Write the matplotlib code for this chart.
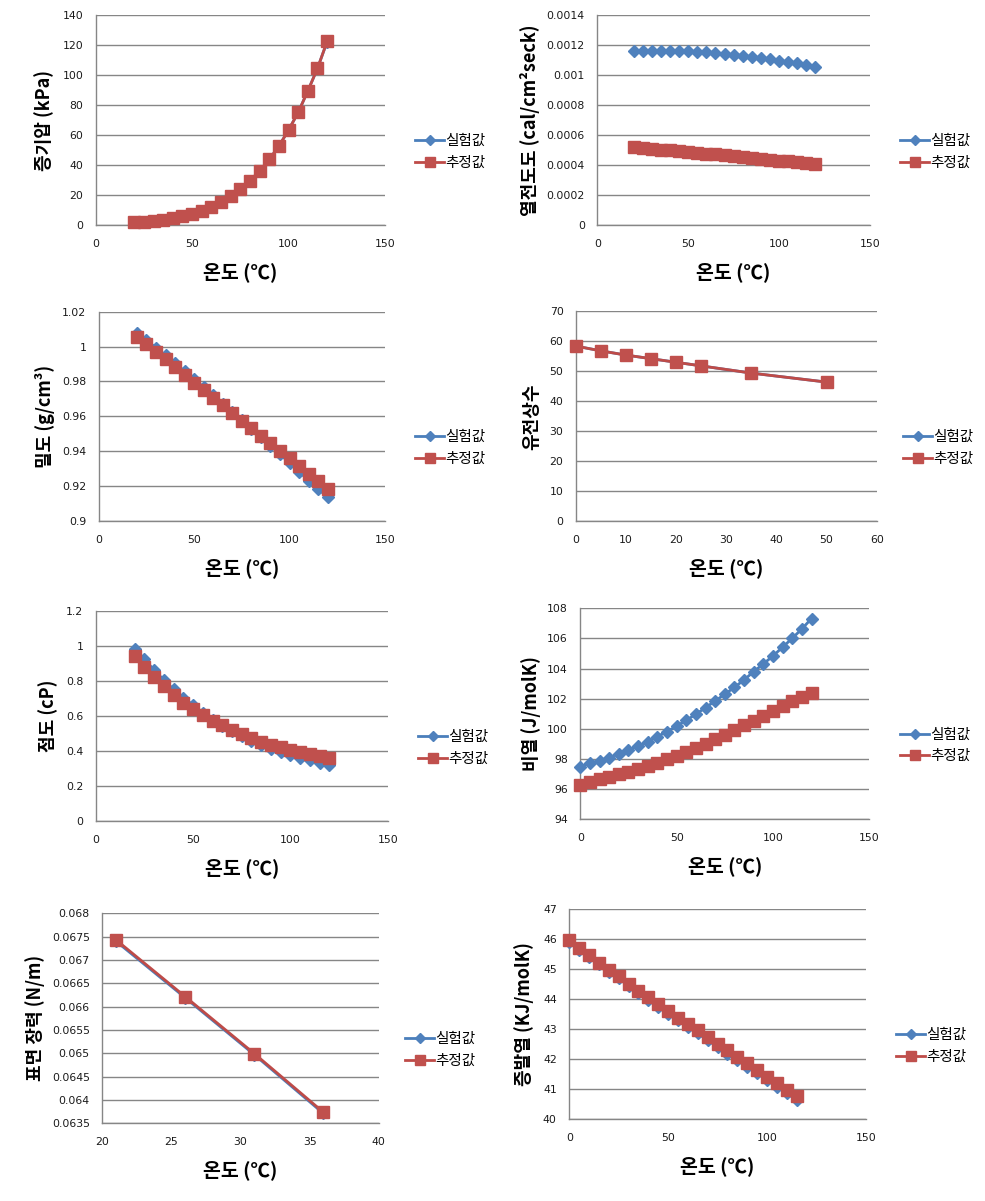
import matplotlib
matplotlib.use("Agg")
import matplotlib.pyplot as plt

plt.rcParams['font.family'] = ['Noto Sans CJK KR', 'DejaVu Sans']

FIG_W, FIG_H = 985, 1201
BLUE_LINE, BLUE_MARK = '#4A7EBB', '#4F81BD'
RED_LINE, RED_MARK = '#BE4B48', '#C0504D'
GRID = '#868686'

LABEL_EXP = '실험값'
LABEL_EST = '추정값'
XLABEL = '온도 (℃)'

# ---------------- data ----------------
# 1. vapour pressure
t_vp = [20, 25, 30, 35, 40, 45, 50, 55, 60, 65, 70, 75, 80, 85, 90, 95, 100, 105, 110, 115, 120]
vp_exp = [1.7, 2.2, 2.8, 3.5, 4.5, 5.7, 7.4, 9.4, 11.9, 15.2, 19.3, 24.1, 29.6, 36.0, 43.8, 52.7, 63.4, 75.2, 89.5, 104.6, 122.4]
vp_est = [1.7, 2.2, 2.8, 3.5, 4.5, 5.7, 7.4, 9.4, 11.9, 15.2, 19.3, 24.1, 29.6, 36.0, 43.8, 52.7, 63.4, 75.2, 89.5, 104.6, 122.6]

# 2. thermal conductivity
t_tc = [20, 25, 30, 35, 40, 45, 50, 55, 60, 65, 70, 75, 80, 85, 90, 95, 100, 105, 110, 115, 120]
tc_exp = [0.0011641, 0.0011641, 0.0011641, 0.0011641, 0.0011641, 0.0011619, 0.0011596, 0.0011552, 0.001153,
          0.0011485, 0.0011418, 0.0011374, 0.0011307, 0.0011218, 0.0011151, 0.0011062, 0.0010973, 0.0010884,
          0.0010795, 0.0010684, 0.0010572]
tc_est = [0.000521, 0.000515, 0.000510, 0.000504, 0.000499, 0.000493, 0.000488, 0.000482, 0.000476, 0.000471,
          0.000465, 0.000459, 0.000453, 0.000447, 0.000441, 0.000436, 0.000430, 0.000424, 0.000418, 0.000412, 0.000407]

# 3. density
t_den = [20, 25, 30, 35, 40, 45, 50, 55, 60, 65, 70, 75, 80, 85, 90, 95, 100, 105, 110, 115, 120]
den_exp = [1.0080, 1.0037, 0.9993, 0.9949, 0.9904, 0.9859, 0.9813, 0.9767, 0.9720, 0.9673, 0.9626, 0.9578,
           0.9530, 0.9481, 0.9432, 0.9383, 0.9333, 0.9283, 0.9232, 0.9184, 0.9136]
den_est = [1.0057, 1.0017, 0.9971, 0.9927, 0.9885, 0.9837, 0.9793, 0.9749, 0.9705, 0.9663, 0.9617, 0.9573,
           0.9531, 0.9487, 0.9445, 0.9401, 0.9359, 0.9315, 0.9271, 0.9227, 0.9183]

# 4. dielectric constant
t_die = [0, 5, 10, 15, 20, 25, 35, 50]
die_exp = [58.4, 56.8, 55.4, 54.2, 53.0, 51.8, 49.4, 46.4]
die_est = [58.4, 56.8, 55.4, 54.2, 53.0, 51.8, 49.4, 46.4]

# 5. viscosity
t_vis = [20, 25, 30, 35, 40, 45, 50, 55, 60, 65, 70, 75, 80, 85, 90, 95, 100, 105, 110, 115, 120]
vis_exp = [0.979, 0.922, 0.861, 0.804, 0.750, 0.703, 0.661, 0.617, 0.575, 0.541, 0.510, 0.484, 0.457, 0.432,
           0.411, 0.392, 0.375, 0.360, 0.345, 0.331, 0.320]
vis_est = [0.941, 0.876, 0.819, 0.768, 0.718, 0.674, 0.638, 0.604, 0.571, 0.545, 0.518, 0.493, 0.470, 0.451,
           0.434, 0.419, 0.404, 0.390, 0.379, 0.368, 0.356]

# 6. specific heat
t_cp = [0, 5, 10, 15, 20, 25, 30, 35, 40, 45, 50, 55, 60, 65, 70, 75, 80, 85, 90, 95, 100, 105, 110, 115, 120]
cp_exp = [97.50, 97.72, 97.89, 98.09, 98.36, 98.58, 98.87, 99.15, 99.49, 99.82, 100.19, 100.57, 100.97, 101.41,
          101.85, 102.30, 102.76, 103.25, 103.80, 104.31, 104.84, 105.42, 106.01, 106.63, 107.32]
cp_est = [96.30, 96.50, 96.68, 96.83, 96.99, 97.16, 97.34, 97.56, 97.76, 98.00, 98.23, 98.47, 98.73, 99.00,
          99.31, 99.60, 99.93, 100.24, 100.55, 100.86, 101.19, 101.52, 101.85, 102.14, 102.38]

# 7. surface tension
t_st = [21, 26, 31, 36]
st_exp = [0.06740, 0.06619, 0.06497, 0.06371]
st_est = [0.067429, 0.066214, 0.064993, 0.063736]

# 8. heat of vaporization
t_hv = [0, 5, 10, 15, 20, 25, 30, 35, 40, 45, 50, 55, 60, 65, 70, 75, 80, 85, 90, 95, 100, 105, 110, 115]
hv_exp = [45.91, 45.65, 45.41, 45.16, 44.92, 44.70, 44.45, 44.21, 43.98, 43.74, 43.52, 43.30, 43.07, 42.86,
          42.64, 42.41, 42.19, 41.97, 41.75, 41.53, 41.31, 41.08, 40.86, 40.65]
hv_est = [45.96, 45.70, 45.47, 45.22, 44.99, 44.77, 44.52, 44.29, 44.06, 43.83, 43.61, 43.39, 43.17, 42.96,
          42.74, 42.52, 42.30, 42.08, 41.87, 41.64, 41.42, 41.20, 40.98, 40.77]

# ticks
xt_150 = [0, 50, 100, 150]
yt_vp = [0, 20, 40, 60, 80, 100, 120, 140]
yt_tc = [0, 0.0002, 0.0004, 0.0006, 0.0008, 0.001, 0.0012, 0.0014]
yl_tc = ['0', '0.0002', '0.0004', '0.0006', '0.0008', '0.001', '0.0012', '0.0014']
yt_den = [0.9, 0.92, 0.94, 0.96, 0.98, 1.0, 1.02]
yl_den = ['0.9', '0.92', '0.94', '0.96', '0.98', '1', '1.02']
xt_die = [0, 10, 20, 30, 40, 50, 60]
yt_die = [0, 10, 20, 30, 40, 50, 60, 70]
yt_vis = [0, 0.2, 0.4, 0.6, 0.8, 1.0, 1.2]
yl_vis = ['0', '0.2', '0.4', '0.6', '0.8', '1', '1.2']
yt_cp = [94, 96, 98, 100, 102, 104, 106, 108]
xt_st = [20, 25, 30, 35, 40]
yt_st = [0.0635, 0.064, 0.0645, 0.065, 0.0655, 0.066, 0.0665, 0.067, 0.0675, 0.068]
yl_st = ['0.0635', '0.064', '0.0645', '0.065', '0.0655', '0.066', '0.0665', '0.067', '0.0675', '0.068']
yt_hv = [40, 41, 42, 43, 44, 45, 46, 47]

# ---------------- figure ----------------
fig = plt.figure(figsize=(FIG_W / 100, FIG_H / 100), dpi=100)


def px_axes(l, r, t, b):
    return fig.add_axes([l / FIG_W, 1 - b / FIG_H, (r - l) / FIG_W, (b - t) / FIG_H])


panels = [
    ((95.7, 385, 15.3, 225), t_vp, vp_exp, vp_est, xt_150, (0, 150), yt_vp, None, (0, 140),
     '증기압 (kPa)', -0.179, 415, 152),
    ((597.3, 870, 15.3, 225), t_tc, tc_exp, tc_est, xt_150, (0, 150), yt_tc, yl_tc, (0, 0.0014),
     '열전도도 (cal/cm²seck)', -0.247, 900, 152),
    ((98.7, 385, 311.7, 521), t_den, den_exp, den_est, xt_150, (0, 150), yt_den, yl_den, (0.9, 1.02),
     '밀도 (g/cm³)', -0.188, 415, 448),
    ((576, 876.7, 311.3, 521.3), t_die, die_exp, die_est, xt_die, (0, 60), yt_die, None, (0, 70),
     '유전상수', -0.146, 903, 448),
    ((95.7, 387.7, 610.7, 820.7), t_vis, vis_exp, vis_est, xt_150, (0, 150), yt_vis, yl_vis, (0, 1.2),
     '점도 (cP)', -0.163, 418, 748),
    ((580.3, 869.3, 608.3, 819.3), t_cp, cp_exp, cp_est, xt_150, (0, 150), yt_cp, None, (94, 108),
     '비열 (J/molK)', -0.171, 900, 745.5),
    ((102.3, 378.7, 913.3, 1123.3), t_st, st_exp, st_est, xt_st, (20, 40), yt_st, yl_st, (0.0635, 0.068),
     '표면 장력 (N/m)', -0.243, 405, 1050),
    ((569.3, 865.7, 909.3, 1119.3), t_hv, hv_exp, hv_est, xt_150, (0, 150), yt_hv, None, (40, 47),
     '증발열 (KJ/molK)', -0.153, 896, 1046),
]

for (rect, x, y_exp, y_est, xt, xlim, yt, yl, ylim, ylab, ylab_x, lx, ly) in panels:
    l, r, t, b = rect
    ax = px_axes(l, r, t, b)
    ax.plot(x, y_exp, color=BLUE_LINE, lw=2.0, marker='D', ms=6.5, mfc=BLUE_MARK, mec=BLUE_MARK,
            label=LABEL_EXP, clip_on=False, zorder=3)
    ax.plot(x, y_est, color=RED_LINE, lw=2.0, marker='s', ms=8, mfc=RED_MARK, mec=RED_MARK,
            label=LABEL_EST, clip_on=False, zorder=4)
    ax.set_xlim(*xlim)
    ax.set_ylim(*ylim)
    ax.set_xticks(xt)
    ax.set_xticklabels([str(v) for v in xt])
    ax.set_yticks(yt)
    ax.set_yticklabels(yl if yl is not None else [str(v) for v in yt])
    for lab in ax.get_xticklabels() + ax.get_yticklabels():
        lab.set_fontfamily('DejaVu Sans')
        lab.set_fontsize(7.8)
        lab.set_color('#1a1a1a')
    ax.tick_params(axis='both', length=0)
    ax.tick_params(axis='x', pad=10)
    ax.tick_params(axis='y', pad=9)
    ax.yaxis.grid(True, color=GRID, lw=1.0)
    ax.set_axisbelow(True)
    for s in ('top', 'right'):
        ax.spines[s].set_visible(False)
    for s in ('left', 'bottom'):
        ax.spines[s].set_color(GRID)
        ax.spines[s].set_linewidth(1.0)
    ax.set_xlabel(XLABEL, fontsize=14, fontweight='bold')
    ax.xaxis.set_label_coords(0.5, -47 / (b - t))
    ax.xaxis.label.set_va('center')
    ax.set_ylabel(ylab, fontsize=13, fontweight='bold')
    ax.yaxis.set_label_coords(ylab_x, 0.5)
    ax.yaxis.label.set_va('center')
    ax.legend(loc='center left', bbox_to_anchor=(lx / FIG_W, 1 - ly / FIG_H),
              bbox_transform=fig.transFigure, frameon=False, fontsize=10.5,
              handlelength=2.0, handletextpad=0.1, labelspacing=0.5,
              borderpad=0, borderaxespad=0, numpoints=1, markerscale=0.85)

fig.savefig('out.png', dpi=100)
